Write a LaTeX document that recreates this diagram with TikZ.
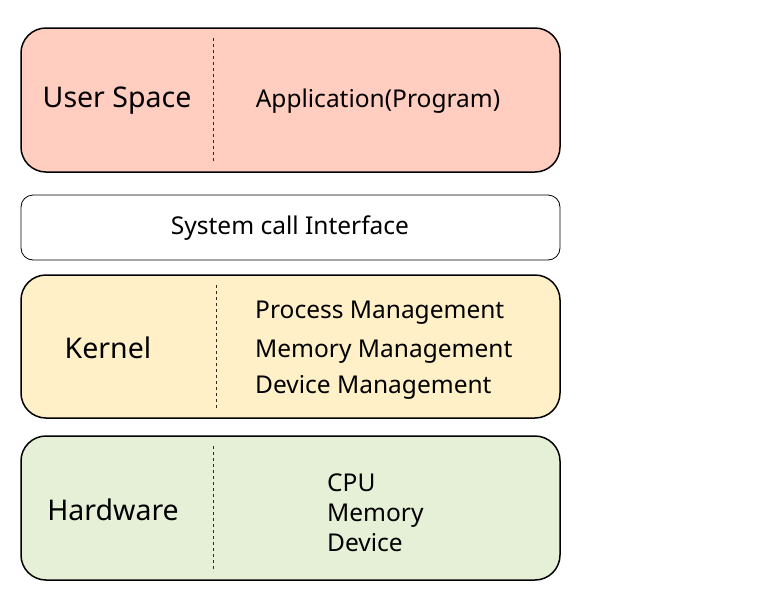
\documentclass[tikz,border=0pt]{standalone}
\usepackage{fontspec}
\setmainfont{Noto Sans}
\begin{document}
\begin{tikzpicture}[x=1pt,y=-1pt,
 layer/.style={draw=black,line width=1.5pt,rounded corners=25pt},
 sep/.style={draw=black!70!brown,dashed,line width=0.8pt},
 big/.style={font=\fontsize{28.5}{34}\selectfont},
 small/.style={font=\fontsize{24.5}{30}\selectfont,align=left},
 item/.style={small,anchor=base west,inner sep=0pt}]
\useasboundingbox (0,0) rectangle (769,590);
\definecolor{upink}{HTML}{FFCEC0}
\definecolor{kyel}{HTML}{FFF0C8}
\definecolor{hgrn}{HTML}{E6F0D6}
\draw[layer,fill=upink] (21,28) rectangle (560,172);
\draw[sep] (213,38) -- (213,162);
\node[big] (us) at (117,101) {User Space};
\node[small] (app) at (378,101) {Application(Program)};
\draw[draw=black,line width=0.8pt,rounded corners=12pt,fill=white] (21,195) rectangle (560,260);
\node[small] (sc) at (290,228) {System call Interface};
\draw[layer,fill=kyel] (21,275) rectangle (560,418);
\draw[sep] (216,285) -- (216,410);
\node[big] (k) at (108,348) {Kernel};
\node[item] (pm) at (255,318) {Process Management};
\node[item] (mm) at (255,357) {Memory Management};
\node[item] (dm) at (255,393) {Device Management};
\draw[layer,fill=hgrn] (21,436) rectangle (560,580);
\draw[sep] (213,446) -- (213,572);
\node[big] (h) at (113,510) {Hardware};
\node[item] (cpu) at (327,491) {CPU};
\node[item] (mem) at (327,521) {Memory};
\node[item] (dev) at (327,551) {Device};
\end{tikzpicture}
\end{document}
